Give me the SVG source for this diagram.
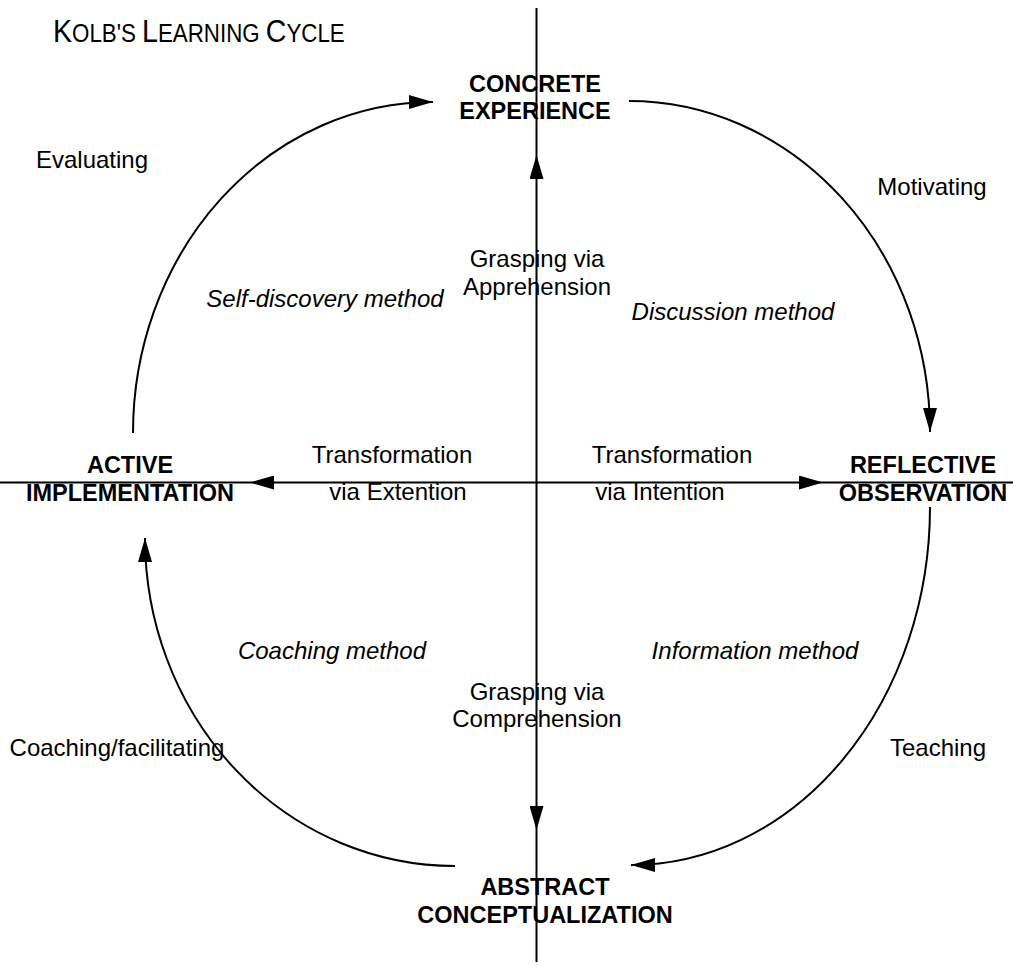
<svg xmlns="http://www.w3.org/2000/svg" width="1013" height="967" viewBox="0 0 1013 967">
<style>
.node{font-family:"Liberation Sans",Arial,sans-serif;font-size:23.5px;font-weight:bold;fill:#000;text-anchor:middle}
.lbl{font-family:"Liberation Sans",Arial,sans-serif;font-size:24px;fill:#000;text-anchor:middle}
.it{font-style:italic}
.ln{fill:none;stroke:#000;stroke-width:2}
</style>
<defs>
<marker id="ah" markerUnits="userSpaceOnUse" markerWidth="24" markerHeight="14" refX="24" refY="7" orient="auto">
<path d="M0,0 L24,7 L0,14 z" fill="#000"/>
</marker>
</defs>
<rect width="1013" height="967" fill="#fff"/>
<g id="title" transform="translate(53,42) scale(0.893,1)">
<text x="0" y="0" font-family="Liberation Sans,Arial,sans-serif" fill="#000"><tspan font-size="32">K</tspan><tspan font-size="25">OLB'S </tspan><tspan font-size="32">L</tspan><tspan font-size="25">EARNING </tspan><tspan font-size="32">C</tspan><tspan font-size="25">YCLE</tspan></text>
</g>
<g id="connectors">
<path class="ln" d="M536.5,483 L536.5,155" marker-end="url(#ah)"/>
<path class="ln" d="M536.5,155 L536.5,8"/>
<path class="ln" d="M536.5,483 L536.5,830" marker-end="url(#ah)"/>
<path class="ln" d="M536.5,830 L536.5,962"/>
<path class="ln" d="M536.5,482.5 L250,482.5" marker-end="url(#ah)"/>
<path class="ln" d="M250,482.5 L0,482.5"/>
<path class="ln" d="M536.5,482.5 L823,482.5" marker-end="url(#ah)"/>
<path class="ln" d="M823,482.5 L1013,482.5"/>
<path class="ln" d="M133,433 A300,331 0 0 1 433,102" marker-end="url(#ah)"/>
<path class="ln" d="M629,101 A301,331 0 0 1 930,432" marker-end="url(#ah)"/>
<path class="ln" d="M930,507 A299,358 0 0 1 631,865" marker-end="url(#ah)"/>
<path class="ln" d="M455,866 A310,328 0 0 1 145,538" marker-end="url(#ah)"/>
</g>
<g id="concrete"><text class="node" x="535" y="92">CONCRETE</text><text class="node" x="535" y="119">EXPERIENCE</text></g>
<g id="active"><text class="node" x="130" y="473">ACTIVE</text><text class="node" x="130" y="501">IMPLEMENTATION</text></g>
<g id="reflective"><text class="node" x="923" y="473">REFLECTIVE</text><text class="node" x="923" y="501">OBSERVATION</text></g>
<g id="abstract"><text class="node" x="545" y="895">ABSTRACT</text><text class="node" x="545" y="923">CONCEPTUALIZATION</text></g>
<g id="labels">
<text class="lbl" x="92" y="168">Evaluating</text>
<text class="lbl" x="932" y="195">Motivating</text>
<text class="lbl" x="537" y="267">Grasping via</text>
<text class="lbl" x="537" y="295">Apprehension</text>
<text class="lbl it" x="325" y="307">Self-discovery method</text>
<text class="lbl it" x="733" y="320">Discussion method</text>
<text class="lbl" x="392" y="463">Transformation</text>
<text class="lbl" x="672" y="463">Transformation</text>
<text class="lbl" x="398" y="500">via Extention</text>
<text class="lbl" x="660" y="500">via Intention</text>
<text class="lbl it" x="332" y="659">Coaching method</text>
<text class="lbl it" x="755" y="659">Information method</text>
<text class="lbl" x="537" y="700">Grasping via</text>
<text class="lbl" x="537" y="727">Comprehension</text>
<text class="lbl" x="117" y="756">Coaching/facilitating</text>
<text class="lbl" x="938" y="756">Teaching</text>
</g>
</svg>
